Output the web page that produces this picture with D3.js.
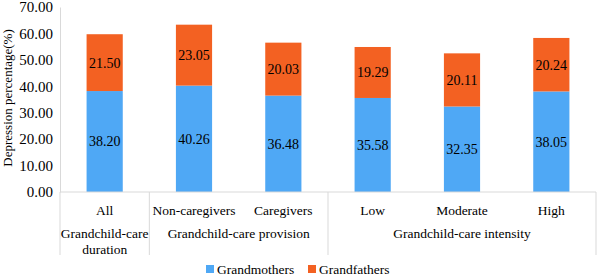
<!DOCTYPE html>
<html>
<head>
<meta charset="utf-8">
<script src="https://cdn.jsdelivr.net/npm/d3@7"></script>
<style>
  body { margin: 0; background: #fff; }
  svg text { font-family: 'Liberation Serif', serif; fill: #000; }
</style>
</head>
<body>
<div id="chart"></div>
<script>
// categories and their groups
const categories = ['All', 'Non-caregivers', 'Caregivers', 'Low', 'Moderate', 'High'];
const groups = [
    { label: ['Grandchild-care', 'duration'], members: ['All'] },
    { label: ['Grandchild-care provision'], members: ['Non-caregivers', 'Caregivers'] },
    { label: ['Grandchild-care intensity'], members: ['Low', 'Moderate', 'High'] }
];
const seriesNames = ['Grandmothers', 'Grandfathers'];
const grandmothers = [38.20, 40.26, 36.48, 35.58, 32.35, 38.05];
const grandfathers = [21.50, 23.05, 20.03, 19.29, 20.11, 20.24];
const yTicks = [0, 10, 20, 30, 40, 50, 60, 70];

const colors = { Grandmothers: '#4fa8f5', Grandfathers: '#f36122' };

const width = 597, height = 279;
const margin = { top: 7, right: 1, bottom: 87, left: 60 };
const innerW = width - margin.left - margin.right;
const innerH = height - margin.top - margin.bottom;

const svg = d3.select('#chart').append('svg')
    .attr('width', width)
    .attr('height', height);

const chart = svg.append('g')
    .attr('transform', `translate(${margin.left},${margin.top})`);

const xScale = d3.scaleBand().domain(categories).range([0, innerW]).paddingInner(0.595).paddingOuter(0.2975);
const yScale = d3.scaleLinear().domain([0, 70]).range([innerH, 0]);

// stack the two series
const table = categories.map((c, i) => ({ cat: c, Grandmothers: grandmothers[i], Grandfathers: grandfathers[i] }));
const stacked = d3.stack().keys(seriesNames)(table);

// y axis
const yAxis = d3.axisLeft(yScale).tickValues(yTicks).tickSize(0).tickPadding(7).tickFormat(d3.format('.2f'));
const yAxisG = chart.append('g').call(yAxis)
    .attr('font-family', null)
    .attr('font-size', null);
yAxisG.select('.domain').attr('stroke', '#d9d9d9');
yAxisG.selectAll('text')
    .style('font-size', '15px');

// bars
const layers = chart.selectAll('.layer')
    .data(stacked)
    .join('g')
    .attr('class', 'layer')
    .attr('fill', d => colors[d.key]);

layers.selectAll('rect')
    .data(d => d)
    .join('rect')
    .attr('x', d => xScale(d.data.cat))
    .attr('width', xScale.bandwidth())
    .attr('y', d => yScale(d[1]))
    .attr('height', d => yScale(d[0]) - yScale(d[1]));

// value labels
layers.selectAll('text')
    .data(d => d.map(v => ({ v, key: d.key })))
    .join('text')
    .attr('x', d => xScale(d.v.data.cat) + xScale.bandwidth() / 2)
    .attr('y', d => yScale((d.v[0] + d.v[1]) / 2))
    .attr('dy', '0.35em')
    .attr('text-anchor', 'middle')
    .style('font-size', '14px')
    .text(d => d3.format('.2f')(d.v.data[d.key]));

// bottom axis with group separators
const step = xScale.step();
const axisG = chart.append('g').attr('transform', `translate(0,${innerH})`);
axisG.append('line')
    .attr('x1', 0).attr('x2', innerW)
    .attr('stroke', '#d9d9d9');

let bounds = [0];
groups.forEach(g => {
    const last = g.members[g.members.length - 1];
    bounds.push(xScale(last) + xScale.bandwidth() + xScale.paddingInner() * step / 2);
});
bounds[bounds.length - 1] = innerW;
axisG.selectAll('.sep')
    .data(bounds)
    .join('line')
    .attr('class', 'sep')
    .attr('x1', d => d).attr('x2', d => d)
    .attr('y1', 0).attr('y2', 63)
    .attr('stroke', '#d9d9d9');

axisG.selectAll('.cat')
    .data(categories)
    .join('text')
    .attr('class', 'cat')
    .attr('x', d => xScale(d) + xScale.bandwidth() / 2)
    .attr('y', 23)
    .attr('text-anchor', 'middle')
    .style('font-size', '13.5px')
    .text(d => d);

groups.forEach((g, i) => {
    const cx = (bounds[i] + bounds[i + 1]) / 2;
    g.label.forEach((line, j) => {
        axisG.append('text')
            .attr('x', cx)
            .attr('y', 46 + j * 16)
            .attr('text-anchor', 'middle')
            .style('font-size', '13.5px')
            .text(line);
    });
});

// y axis title
svg.append('text')
    .attr('transform', 'translate(12,98) rotate(-90)')
    .attr('text-anchor', 'middle')
    .style('font-size', '13px')
    .text('Depression percentage(%)');

// legend
const legend = svg.append('g').attr('transform', `translate(0,${height - 5})`);
const legendX = [206, 308];
seriesNames.forEach((s, i) => {
    legend.append('rect')
        .attr('x', legendX[i]).attr('y', -9)
        .attr('width', 8).attr('height', 8)
        .attr('fill', colors[s]);
    legend.append('text')
        .attr('x', legendX[i] + 11)
        .attr('y', 0)
        .style('font-size', '13.5px')
        .text(s);
});
</script>
</body>
</html>
